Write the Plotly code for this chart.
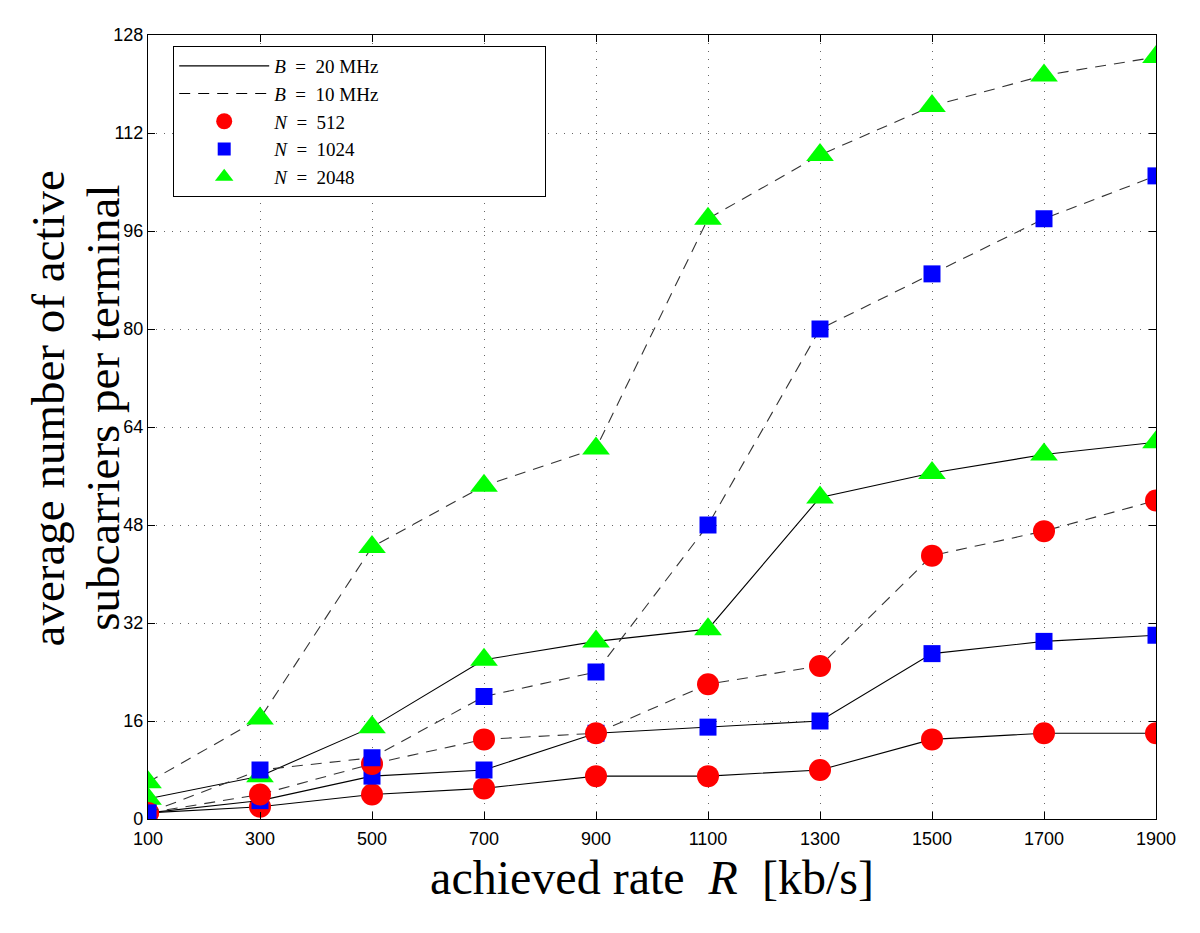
import plotly.graph_objects as go

# achieved rate R [kb/s]
rates = [100, 300, 500, 700, 900, 1100, 1300, 1500, 1700, 1900]

# B = 20 MHz (solid)
n512_b20 = [1, 2, 4, 5, 7, 7, 8, 13, 14, 14]
n1024_b20 = [1, 3, 7, 8, 14, 15, 16, 27, 29, 30]
n2048_b20 = [3.3, 7, 15, 26, 29, 31, 52.5, 56.5, 59.5, 61.5]

# B = 10 MHz (dashed)
n512_b10 = [1, 4, 9, 13, 14, 22, 25, 43, 47, 52]
n1024_b10 = [1, 8, 10, 20, 24, 48, 80, 89, 98, 105]
n2048_b10 = [6, 16.4, 44.4, 54.4, 60.5, 98, 108.4, 116.4, 121.4, 124.4]

y_ticks = [0, 16, 32, 48, 64, 80, 96, 112, 128]

serif = "Liberation Serif"
sans = "Liberation Sans"
DASH = "11px,8px"

markers = {
    "512": dict(symbol="circle", size=22, color="#ff0000"),
    "1024": dict(symbol="square", size=17, color="#0000ff"),
    "2048": dict(symbol="triangle-up", size=24, color="#00ff00"),
}

fig = go.Figure()

series = [
    (n512_b20, "512", "solid"), (n1024_b20, "1024", "solid"), (n2048_b20, "2048", "solid"),
    (n512_b10, "512", DASH), (n1024_b10, "1024", DASH), (n2048_b10, "2048", DASH),
]
for vals, n, dash in series:
    m = markers[n]
    fig.add_trace(go.Scatter(
        x=rates, y=vals, mode="lines+markers", showlegend=False,
        line=dict(color="#333333" if dash == DASH else "black", width=1.1, dash=dash),
        marker=dict(symbol=m["symbol"], size=m["size"], color=m["color"], line=dict(width=0)),
    ))

# legend-only entries (padded so the box is as wide as the original)
sp = "\u00a0" * 2
pad = "\u00a0" * 34
fig.add_trace(go.Scatter(x=[None], y=[None], mode="lines",
                         name=f"<i>B</i>{sp}={sp}20 MHz" + pad,
                         line=dict(color="black", width=1.1)))
fig.add_trace(go.Scatter(x=[None], y=[None], mode="lines",
                         name=f"<i>B</i>{sp}={sp}10 MHz",
                         line=dict(color="black", width=1.1, dash=DASH)))
for n in ["512", "1024", "2048"]:
    m = markers[n]
    fig.add_trace(go.Scatter(x=[None], y=[None], mode="markers",
                             name=f"<i>N</i>{sp}={sp}{n}",
                             marker=dict(symbol=m["symbol"], size=m["size"] - 4, color=m["color"])))

axis_common = dict(
    showline=True, linecolor="black", linewidth=1.2, mirror="ticks",
    ticks="inside", ticklen=7, tickcolor="black",
    showgrid=True, gridcolor="#666666", griddash="1px,7px", gridwidth=1,
    zeroline=False, tickfont=dict(family=sans, size=18, color="black"),
)

fig.update_xaxes(
    range=[100, 1900], tickvals=rates, ticklabelstandoff=3, **axis_common,
    title=dict(text="achieved rate  <i>R</i>  [kb/s]",
               font=dict(family=serif, size=48, color="black"), standoff=12),
)
fig.update_yaxes(range=[0, 128], tickvals=y_ticks, **axis_common)

# two-line y title, placed line by line
for txt, xp in [("average number of active", -0.099), ("subcarriers per terminal", -0.044)]:
    fig.add_annotation(text=txt, xref="paper", yref="paper", x=xp, y=0.524,
                       xanchor="center", yanchor="middle", textangle=-90, showarrow=False,
                       font=dict(family=serif, size=47, color="black"))

fig.update_layout(
    width=1200, height=933,
    paper_bgcolor="white", plot_bgcolor="white",
    margin=dict(l=140, r=52, t=27, b=122),
    legend=dict(
        x=0.025, y=0.986, xanchor="left", yanchor="top",
        bgcolor="white", bordercolor="black", borderwidth=1,
        font=dict(family=serif, size=19, color="black"),
        itemwidth=90, tracegroupgap=0,
    ),
)

fig.write_html("out.html")
